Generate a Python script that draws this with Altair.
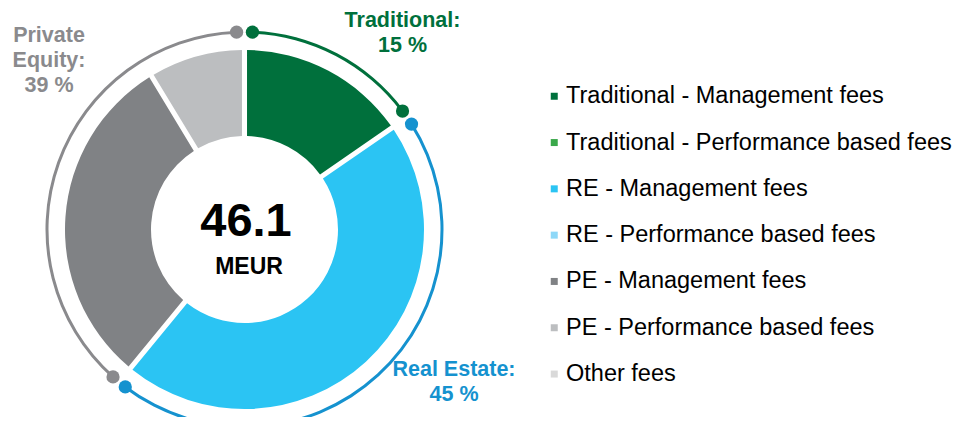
import math
import altair as alt
import pandas as pd

# ---------------- data ----------------
categories = [
    "Traditional - Management fees",
    "Traditional - Performance based fees",
    "RE - Management fees",
    "RE - Performance based fees",
    "PE - Management fees",
    "PE - Performance based fees",
    "Other fees",
]
values = [7.1, 0.0, 21.0, 0.0, 14.0, 4.0, 0.0]  # MEUR
slice_colors = ["#00703C", "#3AA84A", "#2BC4F3", "#8ED8F8", "#808285", "#BCBEC0", "#D9D9D9"]

group_names = ["Traditional", "Real Estate", "Private Equity"]
group_members = [[0, 1], [2, 3], [4, 5]]
group_arc_colors = ["#00703C", "#1592CF", "#8A8A8D"]
group_labels = ["Traditional:\n15 %", "Real Estate:\n45 %", "Private\nEquity:\n39 %"]

total_label = "46.1"
unit_label = "MEUR"

# ---------------- layout ----------------
W, H = 945, 409
CX, CY = 236.5, 221.5
R_IN, R_OUT = 93.5, 179.5
R_RING = 197.5
total = sum(values)
gap = 2.3 / 360 * total  # angular gap of the outer ring at each end

slices = pd.DataFrame({"cat": categories, "value": values, "idx": range(len(categories))})

# outer ring segments per group (derived from the values)
ring_rows, dot_rows = [], []
cum = 0.0
for name, members, col in zip(group_names, group_members, group_arc_colors):
    s = cum
    e = cum + sum(values[i] for i in members)
    cum = e
    ring_rows.append({"g": name, "a0": s + gap, "a1": e - gap, "col": col})
    dot_rows.append({"g": name, "v": s + gap, "col": col})
    dot_rows.append({"g": name, "v": e - gap, "col": col})
ring = pd.DataFrame(ring_rows)
dots = pd.DataFrame(dot_rows)

theta_scale = alt.Scale(domain=[0, total], range=[0, 2 * math.pi])

donut = alt.Chart(slices).mark_arc(
    innerRadius=R_IN, outerRadius=R_OUT, padAngle=0.025
).encode(
    theta=alt.Theta("value:Q", stack=True, scale=theta_scale),
    order=alt.Order("idx:Q"),
    color=alt.Color(
        "cat:N",
        scale=alt.Scale(domain=categories, range=slice_colors),
        legend=alt.Legend(
            orient="none", legendX=534.5, legendY=76.5, title=None,
            symbolType="square", symbolSize=49, symbolStrokeWidth=0,
            labelFontSize=23.5, labelFont="Liberation Sans", labelColor="#000000",
            rowPadding=21.3, labelOffset=0, labelLimit=600, padding=0,
        ),
    ),
    x=alt.value(CX),
    y=alt.value(CY),
)

ring_layer = alt.Chart(ring).mark_arc(
    innerRadius=R_RING - 1.5, outerRadius=R_RING + 1.5
).encode(
    theta=alt.Theta("a0:Q", scale=theta_scale),
    theta2="a1:Q",
    color=alt.Color("col:N", scale=None),
    x=alt.value(CX),
    y=alt.value(CY),
)

dot_layer = alt.Chart(dots).transform_calculate(
    px=f"{CX} + {R_RING} * sin(2 * PI * datum.v / {total})",
    py=f"{CY} - {R_RING} * cos(2 * PI * datum.v / {total})",
).mark_circle(size=175, opacity=1).encode(
    x=alt.X("px:Q", scale=alt.Scale(domain=[0, W], range=[0, W]), axis=None),
    y=alt.Y("py:Q", scale=alt.Scale(domain=[0, H], range=[0, H]), axis=None),
    color=alt.Color("col:N", scale=None),
)

lab = pd.DataFrame({"g": group_names, "label": group_labels, "col": group_arc_colors})
label_pos = {"Traditional": (394.5, 18.7), "Real Estate": (446, 368), "Private Equity": (41, 34.3)}
label_layers = []
for g in group_names:
    lx, ly = label_pos[g]
    label_layers.append(
        alt.Chart(lab).transform_filter(alt.datum.g == g).mark_text(
            font="Liberation Sans", fontSize=21.5, fontWeight="bold",
            align="center", baseline="alphabetic", lineBreak="\n", lineHeight=25,
        ).encode(
            text="label:N",
            color=alt.Color("col:N", scale=None),
            x=alt.value(lx),
            y=alt.value(ly),
        )
    )

center = pd.DataFrame({"t": [total_label], "u": [unit_label]})
big = alt.Chart(center).mark_text(
    font="Liberation Sans", fontSize=47, fontWeight="bold", color="#000000",
    align="center", baseline="alphabetic",
).encode(text="t:N", x=alt.value(238), y=alt.value(228))
unit = alt.Chart(center).mark_text(
    font="Liberation Sans", fontSize=23, fontWeight="bold", color="#000000",
    align="center", baseline="alphabetic",
).encode(text="u:N", x=alt.value(241), y=alt.value(266))

chart = alt.layer(
    donut, ring_layer, dot_layer, *label_layers, big, unit
).properties(
    width=W, height=H, padding=0, autosize=alt.AutoSizeParams(type="none")
).configure_view(stroke=None)

chart.save("out.html", embed_options={"renderer": "svg", "actions": False})
